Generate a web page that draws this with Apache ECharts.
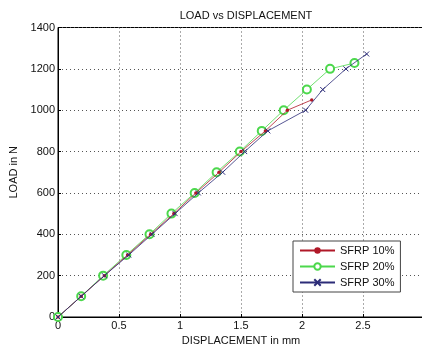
<!DOCTYPE html>
<html>
<head>
<meta charset="utf-8">
<script src="https://cdn.jsdelivr.net/npm/echarts@6/dist/echarts.min.js"></script>
<style>
  html, body { margin: 0; padding: 0; background: #fff; }
  #chart { width: 422px; height: 347px; }
</style>
</head>
<body>
<div id="chart"></div>
<script>
// displacement (mm) / load (N)
const sfrp10Disp = [0, 0.19, 0.38, 0.57, 0.76, 0.95, 1.13, 1.32, 1.50, 1.70, 1.88, 2.08];
const sfrp10Load = [0, 100, 200, 300, 400, 500, 600, 700, 800, 900, 1000, 1050];

const sfrp20Disp = [0, 0.19, 0.37, 0.56, 0.75, 0.93, 1.12, 1.30, 1.49, 1.67, 1.85, 2.04, 2.23, 2.43];
const sfrp20Load = [0, 100, 200, 300, 400, 500, 600, 700, 800, 900, 1000, 1100, 1200, 1228];

const sfrp30Disp = [0, 0.19, 0.38, 0.58, 0.77, 0.96, 1.15, 1.35, 1.53, 1.72, 2.03, 2.17, 2.36, 2.53];
const sfrp30Load = [0, 100, 200, 300, 400, 500, 600, 700, 800, 900, 1000, 1100, 1200, 1272];

const seriesNames = ['SFRP 10%', 'SFRP 20%', 'SFRP 30%'];

const pairs = (xs, ys) => xs.map((x, i) => [x, ys[i]]);

const crossIcon = 'path://M0,0L10,10M10,0L0,10';
const font = 'Liberation Sans';

const chart = echarts.init(document.getElementById('chart'), null, { renderer: 'canvas' });

chart.setOption({
  backgroundColor: '#fff',
  animation: false,
  textStyle: { fontFamily: font },
  title: {
    text: 'LOAD vs DISPLACEMENT',
    left: 241,
    textAlign: 'center',
    top: 5,
    textStyle: { fontSize: 11, fontWeight: 'normal', color: '#111', fontFamily: font }
  },
  grid: {
    left: 58,
    top: 27.5,
    width: 366,
    height: 289.5,
    outerBoundsMode: 'none',
    containLabel: false,
    show: true,
    borderColor: '#000',
    borderWidth: 1,
    backgroundColor: 'transparent'
  },
  legend: {
    orient: 'vertical',
    left: 293,
    top: 241,
    data: seriesNames,
    itemWidth: 35,
    itemHeight: 8,
    itemGap: 5,
    padding: [4, 6, 4, 6],
    backgroundColor: '#fff',
    borderColor: '#444',
    borderWidth: 1,
    textStyle: { fontSize: 11, color: '#111', fontFamily: font }
  },
  xAxis: {
    type: 'value',
    min: 0,
    max: 3,
    interval: 0.5,
    name: 'DISPLACEMENT in mm',
    nameLocation: 'middle',
    nameGap: 16,
    nameTextStyle: { fontSize: 11, color: '#111' },
    axisLine: { show: true, onZero: false, lineStyle: { color: '#000' } },
    axisTick: { show: true, inside: true, length: 3, lineStyle: { color: '#000' } },
    axisLabel: {
      fontSize: 11, color: '#111', margin: 3,
      formatter: v => (v >= 3 ? '' : String(v))
    },
    splitLine: { show: true, lineStyle: { color: '#555', type: [1, 3], width: 1 } }
  },
  yAxis: {
    type: 'value',
    min: 0,
    max: 1400,
    interval: 200,
    name: 'LOAD in N',
    nameLocation: 'middle',
    nameGap: 34,
    nameTextStyle: { fontSize: 11, color: '#111' },
    axisLine: { show: true, onZero: false, lineStyle: { color: '#000' } },
    axisTick: { show: true, inside: true, length: 3, lineStyle: { color: '#000' } },
    axisLabel: { fontSize: 11, color: '#111', margin: 3, formatter: v => String(v) },
    splitLine: { show: true, lineStyle: { color: '#555', type: [1, 3], width: 1 } }
  },
  series: [
    {
      name: seriesNames[0],
      type: 'line',
      data: pairs(sfrp10Disp, sfrp10Load),
      symbol: 'circle',
      symbolSize: 3.5,
      lineStyle: { color: '#b01828', width: 0.8 },
      itemStyle: { color: '#b01828' },
      z: 3
    },
    {
      name: seriesNames[1],
      type: 'line',
      data: pairs(sfrp20Disp, sfrp20Load),
      symbol: 'emptyCircle',
      symbolSize: 8,
      lineStyle: { color: '#4cd84c', width: 0.8 },
      itemStyle: { color: '#4cd84c', borderColor: '#4cd84c', borderWidth: 1 },
      z: 2
    },
    {
      name: seriesNames[2],
      type: 'line',
      data: pairs(sfrp30Disp, sfrp30Load),
      symbol: crossIcon,
      symbolSize: 5,
      lineStyle: { color: '#2c2c78', width: 0.8 },
      itemStyle: { color: 'transparent', borderColor: '#2c2c78', borderWidth: 1 },
      z: 4
    }
  ]
});
</script>
</body>
</html>
